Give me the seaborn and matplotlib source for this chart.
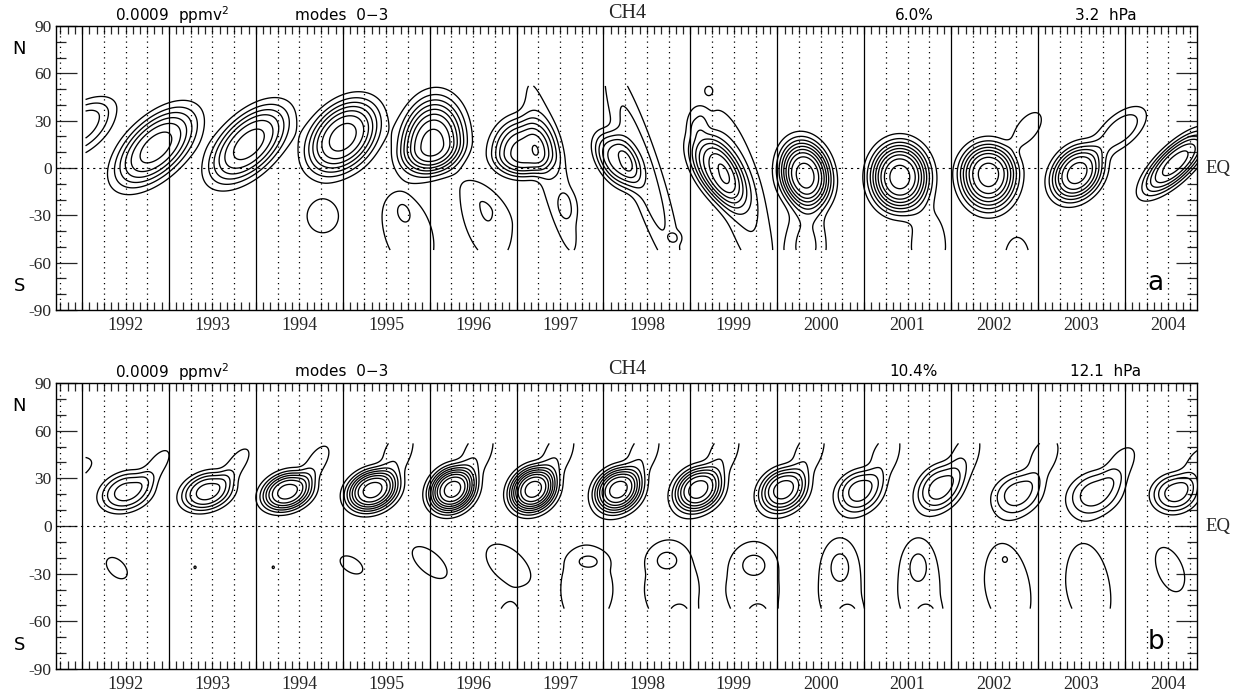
import numpy as np
import matplotlib
matplotlib.use("Agg")
import matplotlib.pyplot as plt
import seaborn as sns

# ---------------- data ----------------
# Each contour feature: centre time (yr), centre latitude (deg), peak value
# (in contour units of 0.0009 ppmv^2), width in time (yr), south / north
# width in latitude (deg), tilt of its axis (deg per yr) and lean (yr per deg).
YEARS = list(range(1992, 2005))
YEAR_LABELS = [str(y) for y in YEARS]
UNIT = 0.0009  # ppmv^2 contour interval

# ---- panel a (3.2 hPa)
A_T0 = [1991.98, 1992.85, 1993.92, 1995.00, 1994.77, 1996.03,
        1995.75, 1995.70, 1996.65,
        1997.07, 1997.40, 1997.60,
        1998.16, 1998.45, 1998.83,
        1999.31, 1999.08, 1999.21, 1999.55,
        2000.32, 2000.33,
        2001.41, 2001.74,
        2002.43, 2002.88, 2002.76,
        2003.45, 2003.95,
        2004.58]
A_LAT = [27, 13, 15, 19.5, -30.5, 14,
         -40, -28, -25.5,
         9, 0, -24,
         5, 0, -44,
         -2, 30, 49, -10,
         -4.5, -50,
         -5.7, -50,
         -3.8, 25, -58,
         -3.3, 24,
         3]
A_AMP = [3.6, 6.4, 6.4, 7.4, 1.5, 8.4,
         1.4, 0.9, 2.02,
         6.4, 1.8, 0.8,
         5.4, 2.4, 0.9,
         6.4, 1.5, 1.25, 2.2,
         9.4, 2.2,
         9.4, 1.6,
         8.4, 1.8, 1.6,
         7.4, 2.6,
         6.4]
A_ST = [0.307, 0.36, 0.35, 0.321, 0.193, 0.284,
        0.34, 0.085, 0.27,
        0.27, 0.15, 0.10,
        0.20, 0.17, 0.062,
        0.25, 0.10, 0.04, 0.22,
        0.227, 0.20,
        0.258, 0.20,
        0.253, 0.15, 0.143,
        0.233, 0.24,
        0.29]
A_SYS = [13.9, 16, 16, 17.0, 11.3, 13.6,
         28.5, 6.5, 28,
         11, 50, 8,
         12, 55, 3.1,
         14.5, 8, 2.5, 50,
         16, 12,
         16.7, 12,
         17.3, 8, 14.3,
         13.2, 9.7,
         10.3]
A_SYN = [11.0, 16, 16, 17.0, 11.3, 22.8,
         26, 6.5, 12.5,
         17, 50, 8,
         12, 55, 3.1,
         15, 8, 2.5, 40,
         16.7, 22,
         16.7, 22,
         14.8, 8, 14.3,
         13.2, 9.7,
         10.3]
A_TILT = [25, 30, 30, 20, 0, 8,
          -30, -20, -35,
          0, 0, 0,
          -30, 0, 0,
          -40, 0, 0, 0,
          -10, 0,
          0, 0,
          0, 35, 0,
          15, 30,
          40]
A_LEAN = [0, 0, 0, 0, 0, 0,
          0, 0, 0,
          0, -0.0045, 0,
          0, -0.0058, 0,
          0, 0, 0, -0.005,
          0, 0,
          0, 0,
          0, 0, 0,
          0, 0,
          0]

# ---- panel b (12.1 hPa)
B_T0 = [1991.78, 1992.51, 1992.86, 1993.44, 1993.78, 1994.36, 1994.70,
        1995.34, 1995.64, 1996.26, 1996.56, 1997.19, 1997.49, 1998.17, 1998.47,
        1999.09, 1999.39, 2000.07, 2000.37, 2000.95, 2001.25, 2001.87, 2002.17,
        2002.77, 2003.07, 2003.66, 2003.96, 2004.58, 2004.85,
        1992.40, 1993.30, 1994.20, 1995.10, 1996.00,
        1996.90, 1996.92,
        1997.80, 1997.83,
        1998.78, 1998.72, 1998.88,
        1999.73, 1999.73, 1999.78,
        2000.72, 2000.72, 2000.82,
        2001.63, 2001.62, 2001.72,
        2002.65, 2002.62,
        2003.58,
        2004.52]
B_LAT = [33, 21.5, 38, 21.5, 39, 21.5, 40,
         22.6, 48, 23, 48, 23, 48, 23, 48,
         23, 48, 23, 48, 22.6, 46, 24, 46,
         21, 44, 21, 40, 21, 40,
         -26.5, -26, -26, -24.5, -23,
         -24.5, -62,
         -40, -22,
         -40, -21, -60,
         -40, -24, -60,
         -40, -25, -60,
         -40, -25, -60,
         -40, -21,
         -40,
         -27]
B_AMP = [2.0, 4.4, 1.4, 5.4, 1.5, 7.4, 1.6,
         8.4, 1.9, 9.4, 1.9, 9.4, 1.9, 8.4, 1.9,
         7.4, 1.9, 6.4, 1.9, 4.4, 1.8, 4.4, 1.8,
         3.4, 1.6, 3.4, 1.5, 4.4, 1.5,
         1.5, 1.05, 1.05, 1.5, 1.6,
         1.6, 1.6,
         1.3, 0.95,
         1.3, 1.0, 1.4,
         1.3, 1.0, 1.4,
         1.3, 1.0, 1.4,
         1.3, 1.0, 1.4,
         1.3, 0.95,
         1.3,
         1.5]
B_ST = [0.296, 0.237, 0.16, 0.233, 0.15, 0.227, 0.143,
        0.228, 0.156, 0.206, 0.156, 0.206, 0.156, 0.21, 0.156,
        0.214, 0.156, 0.213, 0.156, 0.209, 0.152, 0.209, 0.152,
        0.223, 0.163, 0.245, 0.161, 0.209, 0.161,
        0.129, 0.026, 0.026, 0.139, 0.204,
        0.255, 0.143,
        0.36, 0.16,
        0.36, 0.16, 0.14,
        0.36, 0.17, 0.14,
        0.30, 0.13, 0.14,
        0.30, 0.12, 0.14,
        0.33, 0.04,
        0.32,
        0.18]
B_SYS = [7.2, 9.4, 8, 9.0, 7.5, 9.1, 8.2,
         10.2, 12.9, 10.9, 12.9, 10.9, 12.9, 11.1, 12.9,
         10.7, 12.9, 11.0, 12.9, 11.1, 13.3, 11.1, 13.3,
         11.1, 12.2, 11.1, 10.7, 9.7, 10.7,
         6.4, 1.7, 1.7, 5.4, 8.2,
         11.7, 14.3,
         30, 5,
         30, 7, 10,
         30, 8, 10,
         30, 11, 10,
         30, 11, 10,
         30, 2.5,
         30,
         14]
B_SYN = [7.2, 9.4, 8, 9.3, 7.5, 9.4, 8.2,
         9.9, 9.2, 10.9, 9.2, 10.9, 9.2, 10.5, 9.2,
         10.7, 9.2, 10.3, 9.2, 9.7, 9.5, 11.1, 9.5,
         9.6, 10.2, 10.4, 8.6, 9.1, 8.6,
         6.4, 1.7, 1.7, 5.4, 8.2,
         11.7, 14.3,
         34, 5,
         36, 7, 10,
         35, 8, 10,
         35, 11, 10,
         35, 11, 10,
         35, 2.5,
         35,
         13]
B_TILT = [20, 10, 45, 10, 45, 10, 45,
          10, 30, 10, 30, 10, 30, 10, 30,
          10, 30, 10, 30, 10, 30, 15, 30,
          10, 30, 10, 30, 5, 30,
          -25, 0, 0, -20, -30,
          -25, 0,
          0, 0,
          0, 0, 0,
          0, 0, 0,
          0, 0, 0,
          0, 0, 0,
          -25, 0,
          -25,
          -35]
B_LEAN = [0] * len(B_T0)

PANELS = [
    dict(t0=A_T0, lat=A_LAT, amp=A_AMP, st=A_ST, sys=A_SYS, syn=A_SYN,
         tilt=A_TILT, lean=A_LEAN, pct="6.0%", prs="3.2  hPa", letter="a"),
    dict(t0=B_T0, lat=B_LAT, amp=B_AMP, st=B_ST, sys=B_SYS, syn=B_SYN,
         tilt=B_TILT, lean=B_LEAN, pct="10.4%", prs="12.1  hPa", letter="b"),
]

# data domain and axes range
T_START, T_END = 1992.04, 2004.86
LAT_MIN, LAT_MAX = -52.0, 52.0
XMIN, XMAX = 1991.70, 2004.83

t = np.arange(T_START, T_END, 0.004)
la = np.arange(LAT_MIN, LAT_MAX + 0.01, 0.25)
T, LA = np.meshgrid(t, la)


def build_field(p):
    Z = np.zeros_like(T)
    for t0, y0, A, st, sys_, syn, k, lean in zip(p["t0"], p["lat"], p["amp"], p["st"],
                                                 p["sys"], p["syn"], p["tilt"], p["lean"]):
        reach = 3.0 * st + abs(lean) * 110
        sel = np.abs(t - t0) < reach
        if not sel.any():
            continue
        TT = T[:, sel]
        YY = LA[:, sel]
        dt = (TT - t0) - lean * (YY - y0)
        dy = YY - (y0 + k * dt)
        sy = np.where(dy >= 0, syn, sys_)
        r2 = (dt / st) ** 2 + (dy / sy) ** 2
        Z[:, sel] += A * np.exp(-0.5 * r2 ** 1.5)
    return Z * UNIT


# ---------------- figure ----------------
sns.set_theme(style="white")
plt.rcParams["font.family"] = ["Liberation Serif", "DejaVu Serif"]
plt.rcParams["axes.linewidth"] = 1.0

W, H = 1234, 693
fig = plt.figure(figsize=(W / 100, H / 100), dpi=100)
fig.patch.set_facecolor("white")

SANS = ["DejaVu Sans"]
boxes = [(56, 26, 1197, 310), (56, 383, 1197, 669)]
levels = UNIT * np.arange(1, 12)

for p, (x0, y0, x1, y1) in zip(PANELS, boxes):
    ax = fig.add_axes([x0 / W, 1 - y1 / H, (x1 - x0) / W, (y1 - y0) / H])
    ax.set_facecolor("white")
    Z = build_field(p)
    ax.contour(T, LA, Z, levels=levels, colors="black", linewidths=0.95)

    # year lines and quarter-year dotted lines
    for yr in YEARS:
        ax.axvline(yr, color="black", lw=0.9, zorder=1)
    quarters = [q / 4 for q in range(int(XMIN * 4) + 1, int(XMAX * 4) + 1) if q % 4 != 0]
    for q in quarters:
        ax.axvline(q, color="black", lw=0.9, ls=(0, (1, 3.2)), zorder=1)
    sns.lineplot(x=[XMIN, XMAX], y=[0, 0], ax=ax, color="black", lw=0.8,
                 linestyle=(0, (2, 3.5)))

    ax.set_xlim(XMIN, XMAX)
    ax.set_ylim(-90, 90)
    mids = [yr + 0.5 for yr in YEARS]
    ax.set_xticks(mids)
    ax.set_xticklabels(YEAR_LABELS, fontsize=13)
    months = [m / 12 for m in range(int(np.ceil(XMIN * 12)), int(XMAX * 12) + 1)]
    ax.set_xticks(months, minor=True)
    ax.set_yticks(np.arange(-90, 91, 30))
    ax.set_yticklabels([str(v) for v in range(-90, 91, 30)], fontsize=12.5)
    ax.set_yticks(np.arange(-90, 91, 10), minor=True)
    ax.tick_params(axis="x", which="both", direction="in", top=True, bottom=True,
                   length=6, width=0.9, pad=5)
    ax.tick_params(axis="y", which="major", direction="in", left=True, right=True,
                   length=15, width=0.9, pad=3)
    ax.tick_params(axis="y", which="minor", direction="in", left=True, right=True,
                   length=7, width=0.9)
    for s in ax.spines.values():
        s.set_visible(True)
        s.set_color("black")
        s.set_linewidth(1.0)
    ax.grid(False)

    # side annotations
    ax.text(-0.032, 0.918, "N", transform=ax.transAxes, fontsize=13, family=SANS,
            color="black", ha="center", va="center")
    ax.text(-0.032, 0.085, "S", transform=ax.transAxes, fontsize=13, family=SANS,
            color="black", ha="center", va="center")
    ax.text(1.007, 0.5, "EQ", transform=ax.transAxes, fontsize=13.5,
            ha="left", va="center")
    ax.text(0.964, 0.095, p["letter"], transform=ax.transAxes, fontsize=19,
            family=SANS, color="black", ha="center", va="center")

    # header line
    ty = 1 - (y0 - 11) / H
    kw = dict(fontsize=11, family=SANS, color="black", ha="center", va="center")
    fig.text(172 / W, ty, r"0.0009  ppmv$^2$", **kw)
    fig.text(342 / W, ty, "modes  0\u22123", **kw)
    fig.text(627 / W, 1 - (y0 - 13) / H, "CH4", fontsize=14.5, ha="center", va="center")
    fig.text(914 / W, ty, p["pct"], **kw)
    fig.text(1106 / W, ty, p["prs"], **kw)

fig.savefig("out.png", dpi=100, facecolor="white")
